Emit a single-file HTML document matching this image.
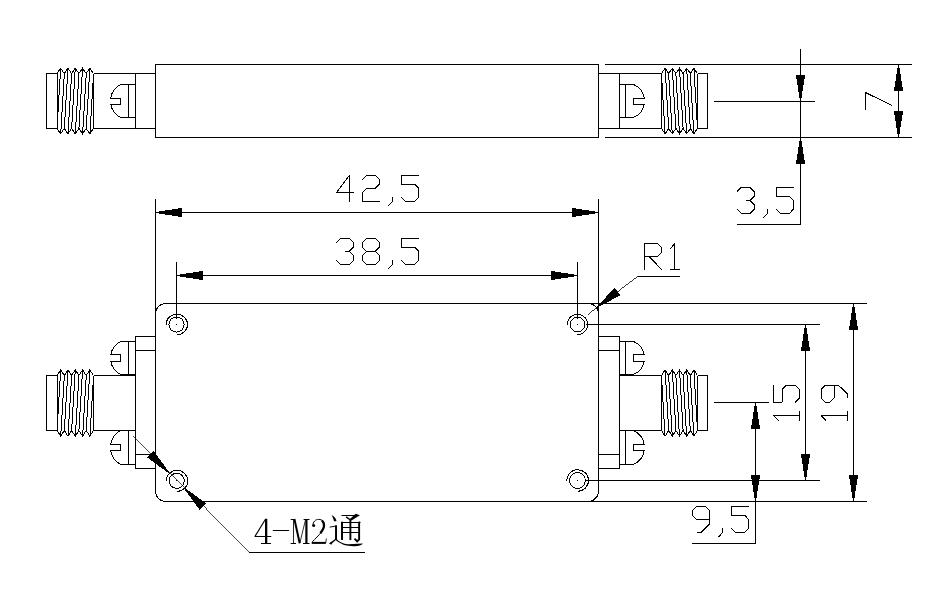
<!DOCTYPE html>
<html><head><meta charset="utf-8"><title>Drawing</title>
<style>
html,body{margin:0;padding:0;background:#fff;}
body{width:937px;height:604px;overflow:hidden;font-family:"Liberation Sans",sans-serif;}
svg{display:block;}
</style></head><body>
<svg width="937" height="604" viewBox="0 0 937 604">
<rect x="0" y="0" width="937" height="604" fill="#fff"/>
<g fill="none" stroke="#000" stroke-width="1" shape-rendering="crispEdges" stroke-linecap="butt" stroke-linejoin="miter">
<path d="M155.50,64.50 L598.50,64.50 L598.50,137.50 L155.50,137.50 Z"/>
<path d="M57.50,73.50 L46.50,73.50 L46.50,128.50 L57.50,128.50"/>
<path d="M57.00,73.50 L60.65,68.30 L64.30,73.50 L67.95,68.30 L71.60,73.50 L75.25,68.30 L78.90,73.50 L82.55,68.30 L86.20,73.50 L89.85,68.30 L93.50,73.50"/>
<path d="M57.00,128.50 L60.65,133.70 L64.30,128.50 L67.95,133.70 L71.60,128.50 L75.25,133.70 L78.90,128.50 L82.55,133.70 L86.20,128.50 L89.85,133.70 L93.50,128.50"/>
<line x1="60.65" y1="68.3" x2="57.0" y2="128.5" stroke-width="0.998"/>
<line x1="64.3" y1="73.5" x2="60.65" y2="133.7" stroke-width="0.998"/>
<line x1="67.95" y1="68.3" x2="64.3" y2="128.5" stroke-width="0.998"/>
<line x1="71.6" y1="73.5" x2="67.95" y2="133.7" stroke-width="0.998"/>
<line x1="75.25" y1="68.3" x2="71.6" y2="128.5" stroke-width="0.998"/>
<line x1="78.9" y1="73.5" x2="75.25" y2="133.7" stroke-width="0.998"/>
<line x1="82.55" y1="68.3" x2="78.9" y2="128.5" stroke-width="0.998"/>
<line x1="86.2" y1="73.5" x2="82.55" y2="133.7" stroke-width="0.998"/>
<line x1="89.85" y1="68.3" x2="86.2" y2="128.5" stroke-width="0.998"/>
<line x1="93.5" y1="73.5" x2="89.85" y2="133.7" stroke-width="0.998"/>
<line x1="57.0" y1="73.5" x2="57.0" y2="128.5"/>
<line x1="93.5" y1="73.5" x2="93.5" y2="128.5"/>
<line x1="93.5" y1="73.5" x2="155.5" y2="73.5"/>
<line x1="93.5" y1="128.5" x2="155.5" y2="128.5"/>
<line x1="135.5" y1="73.5" x2="135.5" y2="128.5"/>
<line x1="119.8" y1="84.5" x2="135.5" y2="84.5"/>
<line x1="119.8" y1="117.5" x2="135.5" y2="117.5"/>
<line x1="128.5" y1="84.5" x2="128.5" y2="117.5"/>
<path d="M120.5,84.5 A18.61,18.61 0 0 0 110.67,98.5 L120.5,98.5 L120.5,104.5 L110.83,104.5 A18.61,18.61 0 0 0 120.5,117.5"/>
<path d="M697.50,73.50 L707.50,73.50 L707.50,128.50 L697.50,128.50"/>
<path d="M661.50,73.50 L665.10,68.30 L668.70,73.50 L672.30,68.30 L675.90,73.50 L679.50,68.30 L683.10,73.50 L686.70,68.30 L690.30,73.50 L693.90,68.30 L697.50,73.50"/>
<path d="M661.50,128.50 L665.10,133.70 L668.70,128.50 L672.30,133.70 L675.90,128.50 L679.50,133.70 L683.10,128.50 L686.70,133.70 L690.30,128.50 L693.90,133.70 L697.50,128.50"/>
<line x1="665.1" y1="68.3" x2="668.7" y2="128.5" stroke-width="0.998"/>
<line x1="661.5" y1="73.5" x2="665.1" y2="133.7" stroke-width="0.998"/>
<line x1="672.3" y1="68.3" x2="675.9" y2="128.5" stroke-width="0.998"/>
<line x1="668.7" y1="73.5" x2="672.3" y2="133.7" stroke-width="0.998"/>
<line x1="679.5" y1="68.3" x2="683.1" y2="128.5" stroke-width="0.998"/>
<line x1="675.9" y1="73.5" x2="679.5" y2="133.7" stroke-width="0.998"/>
<line x1="686.7" y1="68.3" x2="690.3" y2="128.5" stroke-width="0.998"/>
<line x1="683.1" y1="73.5" x2="686.7" y2="133.7" stroke-width="0.998"/>
<line x1="693.9" y1="68.3" x2="697.5" y2="128.5" stroke-width="0.998"/>
<line x1="690.3" y1="73.5" x2="693.9" y2="133.7" stroke-width="0.998"/>
<line x1="661.5" y1="73.5" x2="661.5" y2="128.5"/>
<line x1="697.5" y1="73.5" x2="697.5" y2="128.5"/>
<line x1="598.5" y1="73.5" x2="661.5" y2="73.5"/>
<line x1="598.5" y1="128.5" x2="661.5" y2="128.5"/>
<line x1="619.5" y1="73.5" x2="619.5" y2="128.5"/>
<line x1="619.5" y1="84.5" x2="634.2" y2="84.5"/>
<line x1="619.5" y1="117.5" x2="634.2" y2="117.5"/>
<line x1="625.5" y1="84.5" x2="625.5" y2="117.5"/>
<path d="M633.5,84.5 A17.88,17.88 0 0 1 644.32,98.5 L633.5,98.5 L633.5,104.5 L644.15,104.5 A17.88,17.88 0 0 1 633.5,117.5"/>
<line x1="605" y1="64.5" x2="912" y2="64.5"/>
<line x1="605" y1="137.5" x2="912" y2="137.5"/>
<line x1="714" y1="101.5" x2="814.5" y2="101.5"/>
<line x1="800.5" y1="49" x2="800.5" y2="225"/>
<line x1="737" y1="224.5" x2="800.5" y2="224.5"/>
<path d="M800.05,101.50 L795.90,75.00 L805.10,75.00 L800.95,101.50 Z" fill="#000" stroke="none"/>
<path d="M800.95,137.50 L805.10,164.00 L795.90,164.00 L800.05,137.50 Z" fill="#000" stroke="none"/>
<line x1="898.5" y1="64.5" x2="898.5" y2="137.5"/>
<path d="M898.95,64.50 L903.10,91.00 L893.90,91.00 L898.05,64.50 Z" fill="#000" stroke="none"/>
<path d="M898.05,137.50 L893.90,111.00 L903.10,111.00 L898.95,137.50 Z" fill="#000" stroke="none"/>
<path d="M737.00,191.68 L741.33,187.30 L749.99,187.30 L754.32,191.68 L754.32,196.06 L749.99,200.44 L745.66,200.44" stroke-linejoin="bevel"/>
<path d="M749.99,200.44 L754.32,204.82 L754.32,209.20 L749.99,213.58 L741.33,213.58 L737.00,209.20" stroke-linejoin="bevel"/>
<path d="M767.31,209.20 L767.31,213.58 L762.98,217.96" stroke-linejoin="bevel"/>
<path d="M793.51,187.30 L776.19,187.30 L776.19,196.06 L789.18,196.06 L793.51,200.44 L793.51,209.20 L789.18,213.58 L780.52,213.58 L776.19,209.20" stroke-linejoin="bevel"/>
<path d="M865.30,109.70 L865.30,92.38 L891.58,105.37" stroke-linejoin="bevel"/>
<path d="M165.9,303.5 L588.1,303.5 A10.4,10.4 0 0 1 598.5,313.9 L598.5,491.1 A10.4,10.4 0 0 1 588.1,501.5 L165.9,501.5 A10.4,10.4 0 0 1 155.5,491.1 L155.5,313.9 A10.4,10.4 0 0 1 165.9,303.5 Z"/>
<line x1="155.5" y1="199" x2="155.5" y2="491.5"/>
<line x1="598.5" y1="199" x2="598.5" y2="491.5"/>
<line x1="590" y1="303.5" x2="867" y2="303.5"/>
<line x1="590" y1="501.5" x2="867" y2="501.5"/>
<circle cx="176.5" cy="324.5" r="7.6"/>
<path d="M166.10,325.0 A10.7,10.3 0 1 1 176.80,334.80"/>
<rect x="176" y="324" width="1" height="1" fill="#000" stroke="none"/>
<circle cx="577.5" cy="324.5" r="7.4"/>
<path d="M567.30,325.0 A10.2,10.2 0 1 1 577.50,334.70"/>
<rect x="577" y="324" width="1" height="1" fill="#000" stroke="none"/>
<circle cx="176.7" cy="480.8" r="7.6"/>
<path d="M166.20,481.3 A10.8,10.5 0 1 1 177.00,491.30"/>
<rect x="176" y="480" width="1" height="1" fill="#000" stroke="none"/>
<circle cx="577.5" cy="480.5" r="7.9"/>
<path d="M566.90,481.0 A10.8,10.8 0 1 1 577.70,491.30"/>
<rect x="577" y="480" width="1" height="1" fill="#000" stroke="none"/>
<line x1="176.5" y1="262" x2="176.5" y2="319"/>
<line x1="577.5" y1="262" x2="577.5" y2="319"/>
<line x1="585.5" y1="324.5" x2="820" y2="324.5"/>
<line x1="586" y1="480.5" x2="820" y2="480.5"/>
<line x1="155.5" y1="212.5" x2="598.5" y2="212.5"/>
<path d="M155.50,212.05 L182.00,207.90 L182.00,217.10 L155.50,212.95 Z" fill="#000" stroke="none"/>
<path d="M598.50,212.95 L572.00,217.10 L572.00,207.90 L598.50,212.05 Z" fill="#000" stroke="none"/>
<line x1="176.5" y1="275.5" x2="577.5" y2="275.5"/>
<path d="M176.50,275.05 L203.00,270.90 L203.00,280.10 L176.50,275.95 Z" fill="#000" stroke="none"/>
<path d="M577.50,275.95 L551.00,280.10 L551.00,270.90 L577.50,275.05 Z" fill="#000" stroke="none"/>
<path d="M349.29,201.58 L349.29,175.30 L336.30,192.82 L353.62,192.82" stroke-linejoin="bevel"/>
<path d="M362.28,179.68 L366.61,175.30 L375.27,175.30 L379.60,179.68 L379.60,184.06 L375.27,188.44 L366.61,188.44 L362.28,192.82 L362.28,201.58 L379.60,201.58" stroke-linejoin="bevel"/>
<path d="M392.59,197.20 L392.59,201.58 L388.26,205.96" stroke-linejoin="bevel"/>
<path d="M418.79,175.30 L401.47,175.30 L401.47,184.06 L414.46,184.06 L418.79,188.44 L418.79,197.20 L414.46,201.58 L405.80,201.58 L401.47,197.20" stroke-linejoin="bevel"/>
<path d="M336.30,242.68 L340.63,238.30 L349.29,238.30 L353.62,242.68 L353.62,247.06 L349.29,251.44 L344.96,251.44" stroke-linejoin="bevel"/>
<path d="M349.29,251.44 L353.62,255.82 L353.62,260.20 L349.29,264.58 L340.63,264.58 L336.30,260.20" stroke-linejoin="bevel"/>
<path d="M366.61,238.30 L375.27,238.30 L379.60,242.68 L379.60,247.06 L375.27,251.44 L379.60,255.82 L379.60,260.20 L375.27,264.58 L366.61,264.58 L362.28,260.20 L362.28,255.82 L366.61,251.44 L362.28,247.06 L362.28,242.68 L366.61,238.30" stroke-linejoin="bevel"/>
<path d="M366.61,251.44 L375.27,251.44" stroke-linejoin="bevel"/>
<path d="M392.59,260.20 L392.59,264.58 L388.26,268.96" stroke-linejoin="bevel"/>
<path d="M418.79,238.30 L401.47,238.30 L401.47,247.06 L414.46,247.06 L418.79,251.44 L418.79,260.20 L414.46,264.58 L405.80,264.58 L401.47,260.20" stroke-linejoin="bevel"/>
<line x1="805.5" y1="324.5" x2="805.5" y2="480.5"/>
<path d="M805.95,324.50 L810.10,351.00 L800.90,351.00 L805.05,324.50 Z" fill="#000" stroke="none"/>
<path d="M805.05,480.50 L800.90,454.00 L810.10,454.00 L805.95,480.50 Z" fill="#000" stroke="none"/>
<line x1="853.5" y1="303.5" x2="853.5" y2="501.5"/>
<path d="M853.95,303.50 L858.10,330.00 L848.90,330.00 L853.05,303.50 Z" fill="#000" stroke="none"/>
<path d="M853.05,501.50 L848.90,475.00 L858.10,475.00 L853.95,501.50 Z" fill="#000" stroke="none"/>
<path d="M778.56,420.70 L773.30,415.60 L799.58,415.60" stroke-linejoin="bevel"/>
<path d="M799.58,420.70 L799.58,411.35" stroke-linejoin="bevel"/>
<path d="M773.30,385.30 L773.30,402.30 L782.06,402.30 L782.06,389.55 L786.44,385.30 L795.20,385.30 L799.58,389.55 L799.58,398.05 L795.20,402.30" stroke-linejoin="bevel"/>
<path d="M826.26,420.70 L821.00,415.60 L847.28,415.60" stroke-linejoin="bevel"/>
<path d="M847.28,420.70 L847.28,411.35" stroke-linejoin="bevel"/>
<path d="M847.28,398.05 L847.28,393.80 L838.52,385.30 L825.38,385.30 L821.00,389.55 L821.00,398.05 L825.38,402.30 L829.76,402.30 L834.14,398.05 L834.14,385.30" stroke-linejoin="bevel"/>
<line x1="713.5" y1="402.5" x2="769" y2="402.5"/>
<line x1="755.5" y1="402.5" x2="755.5" y2="544"/>
<line x1="692" y1="543.5" x2="755.5" y2="543.5"/>
<path d="M755.95,402.50 L760.10,429.00 L750.90,429.00 L755.05,402.50 Z" fill="#000" stroke="none"/>
<path d="M755.05,501.50 L750.90,475.00 L760.10,475.00 L755.95,501.50 Z" fill="#000" stroke="none"/>
<path d="M696.63,532.68 L700.96,532.68 L709.62,523.92 L709.62,510.78 L705.29,506.40 L696.63,506.40 L692.30,510.78 L692.30,515.16 L696.63,519.54 L709.62,519.54" stroke-linejoin="bevel"/>
<path d="M722.61,528.30 L722.61,532.68 L718.28,537.06" stroke-linejoin="bevel"/>
<path d="M748.81,506.40 L731.49,506.40 L731.49,515.16 L744.48,515.16 L748.81,519.54 L748.81,528.30 L744.48,532.68 L735.82,532.68 L731.49,528.30" stroke-linejoin="bevel"/>
<line x1="588.2" y1="314.3" x2="637.5" y2="276.5" stroke-width="0.794"/>
<line x1="637.5" y1="276.5" x2="680" y2="276.5"/>
<path d="M596.20,307.30 L614.71,287.88 L620.31,295.18 L596.75,308.01 Z" fill="#000" stroke="none"/>
<path d="M644.50,269.58 L644.50,243.30 L657.49,243.30 L661.82,247.68 L661.82,252.06 L657.49,256.44 L644.50,256.44" stroke-linejoin="bevel"/>
<path d="M648.83,256.44 L661.82,269.58" stroke-linejoin="bevel"/>
<path d="M670.48,248.56 L674.81,243.30 L674.81,269.58" stroke-linejoin="bevel"/>
<path d="M670.48,269.58 L680.01,269.58" stroke-linejoin="bevel"/>
<path d="M155.50,336.50 L135.50,336.50 L135.50,468.50 L155.50,468.50"/>
<line x1="135.5" y1="350.5" x2="155.5" y2="350.5"/>
<line x1="135.5" y1="454.5" x2="155.5" y2="454.5"/>
<path d="M57.50,375.50 L46.50,375.50 L46.50,430.50 L57.50,430.50"/>
<path d="M57.00,375.50 L60.65,369.90 L64.30,375.50 L67.95,369.90 L71.60,375.50 L75.25,369.90 L78.90,375.50 L82.55,369.90 L86.20,375.50 L89.85,369.90 L93.50,375.50"/>
<path d="M57.00,430.50 L60.65,436.10 L64.30,430.50 L67.95,436.10 L71.60,430.50 L75.25,436.10 L78.90,430.50 L82.55,436.10 L86.20,430.50 L89.85,436.10 L93.50,430.50"/>
<line x1="60.65" y1="369.9" x2="57.0" y2="430.5" stroke-width="0.998"/>
<line x1="64.3" y1="375.5" x2="60.65" y2="436.1" stroke-width="0.998"/>
<line x1="67.95" y1="369.9" x2="64.3" y2="430.5" stroke-width="0.998"/>
<line x1="71.6" y1="375.5" x2="67.95" y2="436.1" stroke-width="0.998"/>
<line x1="75.25" y1="369.9" x2="71.6" y2="430.5" stroke-width="0.998"/>
<line x1="78.9" y1="375.5" x2="75.25" y2="436.1" stroke-width="0.998"/>
<line x1="82.55" y1="369.9" x2="78.9" y2="430.5" stroke-width="0.998"/>
<line x1="86.2" y1="375.5" x2="82.55" y2="436.1" stroke-width="0.998"/>
<line x1="89.85" y1="369.9" x2="86.2" y2="430.5" stroke-width="0.998"/>
<line x1="93.5" y1="375.5" x2="89.85" y2="436.1" stroke-width="0.998"/>
<line x1="57.0" y1="375.5" x2="57.0" y2="430.5"/>
<line x1="93.5" y1="375.5" x2="93.5" y2="430.5"/>
<line x1="93.5" y1="375.5" x2="135.5" y2="375.5"/>
<line x1="93.5" y1="430.5" x2="135.5" y2="430.5"/>
<line x1="119.8" y1="341.5" x2="135.5" y2="341.5"/>
<line x1="128.5" y1="341.5" x2="128.5" y2="375.5"/>
<line x1="119.8" y1="374.5" x2="135.5" y2="374.5"/>
<path d="M120.5,341.5 A18.61,18.61 0 0 0 110.83,354.5 L120.5,354.5 L120.5,361.5 L110.83,361.5 A18.61,18.61 0 0 0 120.5,374.5"/>
<line x1="119.8" y1="464.5" x2="135.5" y2="464.5"/>
<line x1="128.5" y1="430.5" x2="128.5" y2="464.5"/>
<path d="M120.5,430.5 A19.45,19.45 0 0 0 110.73,444.5 L120.5,444.5 L120.5,450.5 L110.73,450.5 A19.45,19.45 0 0 0 120.5,464.5"/>
<path d="M598.50,336.50 L619.50,336.50 L619.50,468.50 L598.50,468.50"/>
<line x1="598.5" y1="350.5" x2="619.5" y2="350.5"/>
<line x1="598.5" y1="454.5" x2="619.5" y2="454.5"/>
<path d="M697.50,375.50 L707.50,375.50 L707.50,430.50 L697.50,430.50"/>
<path d="M661.50,375.50 L665.10,369.90 L668.70,375.50 L672.30,369.90 L675.90,375.50 L679.50,369.90 L683.10,375.50 L686.70,369.90 L690.30,375.50 L693.90,369.90 L697.50,375.50"/>
<path d="M661.50,430.50 L665.10,436.10 L668.70,430.50 L672.30,436.10 L675.90,430.50 L679.50,436.10 L683.10,430.50 L686.70,436.10 L690.30,430.50 L693.90,436.10 L697.50,430.50"/>
<line x1="665.1" y1="369.9" x2="668.7" y2="430.5" stroke-width="0.998"/>
<line x1="661.5" y1="375.5" x2="665.1" y2="436.1" stroke-width="0.998"/>
<line x1="672.3" y1="369.9" x2="675.9" y2="430.5" stroke-width="0.998"/>
<line x1="668.7" y1="375.5" x2="672.3" y2="436.1" stroke-width="0.998"/>
<line x1="679.5" y1="369.9" x2="683.1" y2="430.5" stroke-width="0.998"/>
<line x1="675.9" y1="375.5" x2="679.5" y2="436.1" stroke-width="0.998"/>
<line x1="686.7" y1="369.9" x2="690.3" y2="430.5" stroke-width="0.998"/>
<line x1="683.1" y1="375.5" x2="686.7" y2="436.1" stroke-width="0.998"/>
<line x1="693.9" y1="369.9" x2="697.5" y2="430.5" stroke-width="0.998"/>
<line x1="690.3" y1="375.5" x2="693.9" y2="436.1" stroke-width="0.998"/>
<line x1="661.5" y1="375.5" x2="661.5" y2="430.5"/>
<line x1="697.5" y1="375.5" x2="697.5" y2="430.5"/>
<line x1="619.5" y1="375.5" x2="661.5" y2="375.5"/>
<line x1="619.5" y1="430.5" x2="661.5" y2="430.5"/>
<line x1="619.5" y1="341.5" x2="634.2" y2="341.5"/>
<line x1="625.5" y1="341.5" x2="625.5" y2="375.5"/>
<line x1="619.5" y1="374.5" x2="634.2" y2="374.5"/>
<path d="M633.5,341.5 A17.88,17.88 0 0 1 644.15,354.5 L633.5,354.5 L633.5,361.5 L644.15,361.5 A17.88,17.88 0 0 1 633.5,374.5"/>
<line x1="619.5" y1="464.5" x2="634.2" y2="464.5"/>
<line x1="625.5" y1="430.5" x2="625.5" y2="464.5"/>
<path d="M633.5,430.5 A18.64,18.64 0 0 1 644.26,444.5 L633.5,444.5 L633.5,450.5 L644.26,450.5 A18.64,18.64 0 0 1 633.5,464.5"/>
<line x1="132.5" y1="436.2" x2="249.2" y2="552.5" stroke-width="0.708"/>
<line x1="249.2" y1="552.5" x2="365" y2="552.5"/>
<path d="M169.01,473.44 L147.33,457.64 L153.84,451.13 L169.64,472.81 Z" fill="#000" stroke="none"/>
<path d="M184.39,487.56 L206.07,503.36 L199.56,509.87 L183.76,488.19 Z" fill="#000" stroke="none"/>
</g>

<g fill="none" stroke="#000" stroke-linecap="butt" shape-rendering="auto">
 <!-- 4 -->
 <path d="M266.15,518.8 L266.15,543.5" stroke-width="2.3"/>
 <path d="M265.6,519.0 L255.0,536.4" stroke-width="1.1"/>
 <path d="M254.6,536.5 L271.3,536.5" stroke-width="1"/>
 <path d="M261.0,543.5 L271.0,543.5" stroke-width="1"/>
 <!-- hyphen -->
 <path d="M272.8,530.5 L289.1,530.5" stroke-width="1"/>
 <!-- M -->
 <path d="M293.5,519.2 L293.5,543.3" stroke-width="0.85"/>
 <path d="M290.7,519.5 L295.0,519.5 M290.7,543.5 L296.0,543.5" stroke-width="1"/>
 <path d="M294.4,519.0 L299.7,543.2" stroke-width="2.0"/>
 <path d="M299.8,543.2 L305.6,519.4" stroke-width="0.8"/>
 <path d="M306.4,519.2 L306.4,543.3" stroke-width="2.2"/>
 <path d="M303.6,519.5 L309.5,519.5 M303.0,543.5 L309.5,543.5" stroke-width="1"/>
 <!-- 2 -->
 <path d="M312.9,526 C312.9,521.5 315.5,519.4 318.6,519.4 C322.5,519.4 324.4,522 324.4,525.5 C324.4,530 319,535 312.3,541.8" stroke-width="1.0"/>
 <path d="M321.8,520.6 C323.6,521.8 324.0,524 324.0,525.6 C324.0,528.2 322.6,530.4 320.4,533.2" stroke-width="2.3"/>
 <path d="M311.7,542.9 L325.8,542.9" stroke-width="2"/>
 <path d="M325.7,543.2 L326.4,538.4" stroke-width="0.8"/>
 <circle cx="313.7" cy="525.4" r="1.5" fill="#000" stroke="none"/>
</g>
<g transform="translate(324,508) scale(0.07289)" fill="none" stroke="#000" stroke-linecap="butt" shape-rendering="auto">
 <path d="M240,102.9 L455,102.9" stroke-width="13.72"/>
 <path d="M435,80 L492,100 L378,170 L355,150 Z" fill="#000" stroke="none"/>
 <path d="M303,122 L368,168" stroke-width="20"/>
 <path d="M247,190 L247,440" stroke-width="27"/>
 <path d="M247,198.9 L490,198.9" stroke-width="13.72"/>
 <path d="M474,180 L508,197 L490,206 Z" fill="#000" stroke="none"/>
 <path d="M482,196 L482,430 L455,458 L418,420" stroke-width="26" stroke-linejoin="miter"/>
 <path d="M362,160 L362,440" stroke-width="26"/>
 <path d="M247,267.5 L482,267.5" stroke-width="13.72"/>
 <path d="M247,336.1 L482,336.1" stroke-width="13.72"/>
 <path d="M105,95 Q165,125 172,182 L138,182 Q128,140 105,95 Z" fill="#000" stroke="none"/>
 <path d="M78,262 L170,247" stroke-width="13"/>
 <path d="M165,238 L165,428" stroke-width="27"/>
 <path d="M170,422 L88,490" stroke-width="20"/>
 <path d="M68,482 L125,450 L102,505 Z" fill="#000" stroke="none"/>
 <path d="M160,415 Q230,490 330,497 L535,487 Q500,525 420,524 Q250,528 150,432 Z" fill="#000" stroke="none"/>
</g>

</svg>
</body></html>
